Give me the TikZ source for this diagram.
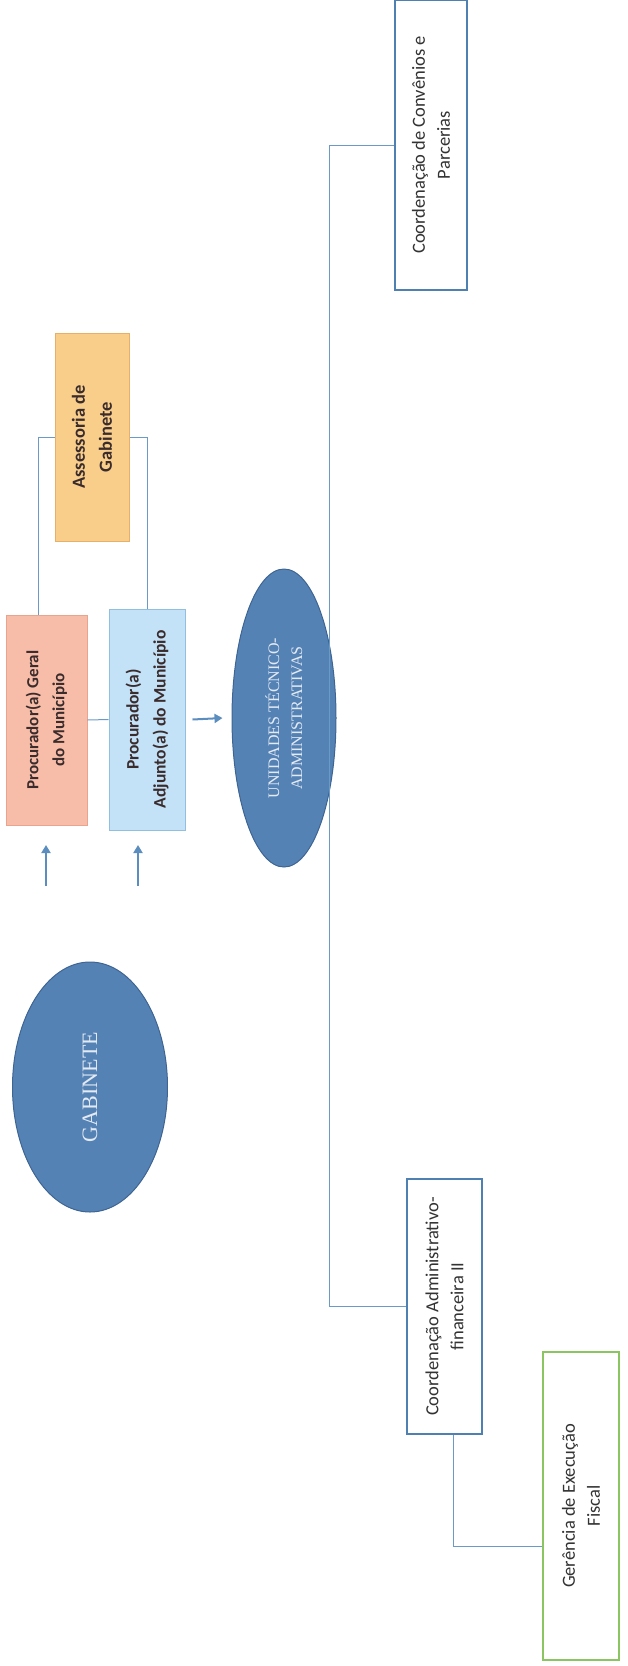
\documentclass[tikz,border=0pt]{standalone}
\usepackage{fontspec}
\setmainfont{Carlito}
\newfontfamily\timesf{Liberation Serif}
\usetikzlibrary{shapes.geometric,arrows.meta}
\definecolor{ellfill}{HTML}{5582B5}
\definecolor{elldraw}{HTML}{3E6591}
\definecolor{elltext}{HTML}{E3EAF3}
\definecolor{pgfill}{HTML}{F8BDA8}
\definecolor{pgdraw}{HTML}{E8A48C}
\definecolor{adfill}{HTML}{C3E1F7}
\definecolor{addraw}{HTML}{92BFE0}
\definecolor{asfill}{HTML}{F8CE8A}
\definecolor{asdraw}{HTML}{E6B068}
\definecolor{bluebox}{HTML}{4F80B2}
\definecolor{greenbox}{HTML}{8BC562}
\definecolor{linec}{HTML}{6A9BC8}
\definecolor{arrowc}{HTML}{5B8DBE}
\definecolor{txt}{HTML}{333333}
\definecolor{btxt}{HTML}{3A2C2C}
\begin{document}
\begin{tikzpicture}[x=1pt,y=-1pt,
  box/.style={draw, rotate=90, align=center, inner sep=0pt, line width=1pt,
    font=\fontsize{18.5}{25}\selectfont, text=txt},
  cbox/.style={box, font=\fontsize{17}{26}\selectfont\bfseries, text=btxt},
  wbox/.style={box, fill=white, line width=1.6pt},
  oval/.style={ellipse, draw=elldraw, fill=ellfill, line width=1pt, rotate=90,
    align=center, inner sep=0pt, text=elltext},
  conn/.style={draw=linec, line width=1pt},
  upar/.style={draw=arrowc, line width=2pt, -{Triangle[length=8pt,width=9pt]}}
]
\useasboundingbox (0,0) rectangle (627,1666);

% ellipses
\node[oval, minimum width=250pt, minimum height=155pt,
  font=\timesf\fontsize{22}{26}\selectfont] (gab) at (90,1087) {GABINETE};
\node[oval, minimum width=298pt, minimum height=104pt,
  font=\timesf\fontsize{16}{23}\selectfont] (un) at (284,718) {UNIDADES TÉCNICO-\\ADMINISTRATIVAS};

% coloured boxes
\node[cbox, fill=pgfill, draw=pgdraw, minimum width=210pt, minimum height=81pt]
  (pg) at (46.5,720) {Procurador(a) Geral\\do Município};
\node[cbox, fill=adfill, draw=addraw, minimum width=221pt, minimum height=76pt,
  font=\fontsize{17.5}{27}\selectfont\bfseries]
  (ad) at (147,719.5) {Procurador(a)\\Adjunto(a) do Município};
\node[cbox, fill=asfill, draw=asdraw, minimum width=208pt, minimum height=74pt,
  font=\fontsize{18.5}{27}\selectfont\bfseries]
  (as) at (92,437) {Assessoria de\\Gabinete};

% white boxes
\node[wbox, draw=bluebox, minimum width=290pt, minimum height=72pt]
  (cc) at (431,145) {Coordenação de Convênios e\\Parcerias};
\node[wbox, draw=bluebox, minimum width=255pt, minimum height=75pt]
  (ca) at (444.5,1306.5) {Coordenação Administrativo-\\financeira II};
\node[wbox, draw=greenbox, minimum width=308pt, minimum height=76pt]
  (ge) at (581,1506) {Gerência de Execução\\Fiscal};

% connectors
\draw[conn] ([xshift=-8pt]pg.east) |- (as.north);
\draw[conn] (ad.east) |- (as.south);
\draw[conn] (pg.south) -- (ad.north);
\draw[conn] (cc.north) -- ++(-65,0) |- (ca.north);
\draw[conn] ([xshift=8.5pt]ca.west) |- ([yshift=-40pt]ge.north);

% arrows
\coordinate (a1s) at (46,886);
\coordinate (a1e) at (46,845);
\coordinate (a2s) at (138,886);
\coordinate (a2e) at (138,845);
\draw[upar] (a1s) -- (a1e);
\draw[upar] (a2s) -- (a2e);
\draw[upar] ([xshift=7pt]ad.south) -- ([xshift=-9pt]un.north);
\end{tikzpicture}
\end{document}
